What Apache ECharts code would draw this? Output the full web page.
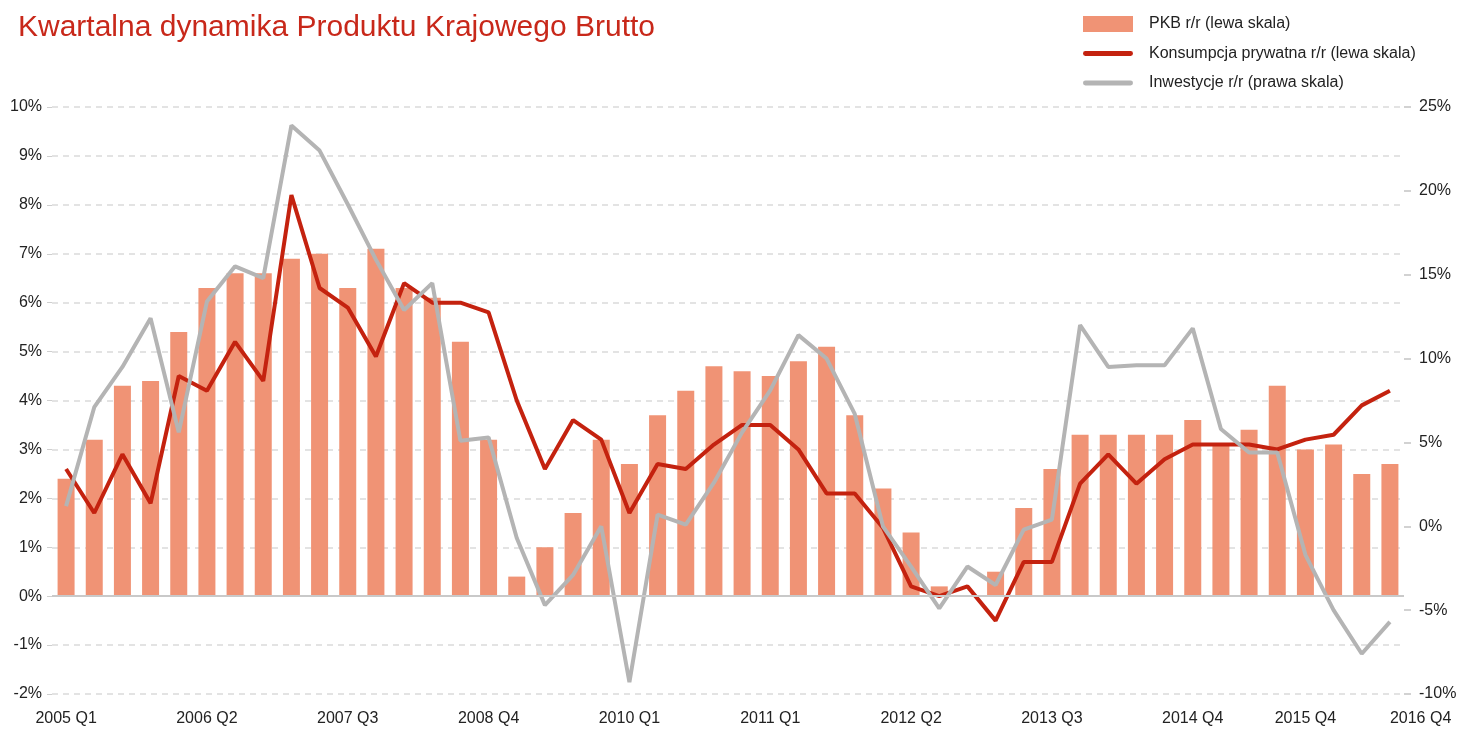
<!DOCTYPE html>
<html lang="pl">
<head>
<meta charset="UTF-8">
<title>Kwartalna dynamika PKB</title>
<script src="https://cdn.jsdelivr.net/npm/echarts@6/dist/echarts.min.js"></script>
<style>
html, body { margin: 0; padding: 0; background: #fff; }
#chart { width: 1475px; height: 729px; }
</style>
</head>
<body>
<div id="chart"></div>
<script>
var quarters = [
  '2005 Q1','2005 Q2','2005 Q3','2005 Q4','2006 Q1','2006 Q2','2006 Q3','2006 Q4',
  '2007 Q1','2007 Q2','2007 Q3','2007 Q4','2008 Q1','2008 Q2','2008 Q3','2008 Q4',
  '2009 Q1','2009 Q2','2009 Q3','2009 Q4','2010 Q1','2010 Q2','2010 Q3','2010 Q4',
  '2011 Q1','2011 Q2','2011 Q3','2011 Q4','2012 Q1','2012 Q2','2012 Q3','2012 Q4',
  '2013 Q1','2013 Q2','2013 Q3','2013 Q4','2014 Q1','2014 Q2','2014 Q3','2014 Q4',
  '2015 Q1','2015 Q2','2015 Q3','2015 Q4','2016 Q1','2016 Q2','2016 Q3','2016 Q4'
];
// PKB r/r (lewa skala)
var pkb = [2.4,3.2,4.3,4.4,5.4,6.3,6.6,6.6,6.9,7.0,6.3,7.1,6.3,6.1,5.2,3.2,
           0.4,1.0,1.7,3.2,2.7,3.7,4.2,4.7,4.6,4.5,4.8,5.1,3.7,2.2,1.3,0.2,
           0.0,0.5,1.8,2.6,3.3,3.3,3.3,3.3,3.6,3.1,3.4,4.3,3.0,3.1,2.5,2.7];
// Konsumpcja prywatna r/r (lewa skala)
var konsumpcja = [2.6,1.7,2.9,1.9,4.5,4.2,5.2,4.4,8.2,6.3,5.9,4.9,6.4,6.0,6.0,5.8,
                  4.0,2.6,3.6,3.2,1.7,2.7,2.6,3.1,3.5,3.5,3.0,2.1,2.1,1.4,0.2,0.0,
                  0.2,-0.5,0.7,0.7,2.3,2.9,2.3,2.8,3.1,3.1,3.1,3.0,3.2,3.3,3.9,4.2];
// Inwestycje r/r (prawa skala)
var inwestycje = [1.2,7.1,9.5,12.4,5.6,13.4,15.5,14.8,23.9,22.4,19.2,15.9,12.9,14.5,5.1,5.3,
                  -0.7,-4.7,-2.9,0.0,-9.3,0.7,0.1,2.6,5.6,8.1,11.4,10.0,6.7,0.0,-2.4,-4.9,
                  -2.4,-3.5,-0.2,0.4,12.0,9.5,9.6,9.6,11.8,5.8,4.4,4.4,-1.7,-5.0,-7.6,-5.7];
// etykiety osi X (indeks -> tekst)
var tickIdx = [0,5,10,15,20,25,30,35,40,44,47];
var tickTxt = ['2005 Q1','2006 Q2','2007 Q3','2008 Q4','2010 Q1','2011 Q1','2012 Q2','2013 Q3','2014 Q4','2015 Q4','2016 Q4'];

var FONT = "'Liberation Sans', Arial, sans-serif";
var names = ['PKB r/r (lewa skala)', 'Konsumpcja prywatna r/r (lewa skala)', 'Inwestycje r/r (prawa skala)'];
// gruba linia z zaokraglonymi koncami do legendy
var lineIcon = 'path://M2.5,0 L49.5,0 A2.5,2.5 0 0 1 49.5,5 L2.5,5 A2.5,2.5 0 0 1 2.5,0 Z';

var chart = echarts.init(document.getElementById('chart'));
chart.setOption({
  animation: false,
  textStyle: { fontFamily: FONT },
  title: {
    text: 'Kwartalna dynamika Produktu Krajowego Brutto',
    left: 13, top: 8,
    textStyle: { color: '#c8281a', fontSize: 30, fontWeight: 'normal', fontFamily: FONT }
  },
  legend: {
    orient: 'vertical',
    left: 1078, top: 11,
    itemWidth: 50, itemHeight: 16, itemGap: 13.5,
    symbolKeepAspect: true,
    textStyle: { fontSize: 16, color: '#222', padding: [0, 0, 0, 11], fontFamily: FONT },
    data: [
      { name: names[0], icon: 'rect' },
      { name: names[1], icon: lineIcon },
      { name: names[2], icon: lineIcon }
    ]
  },
  grid: { left: 52, right: 71, top: 107, bottom: 35 },
  xAxis: {
    type: 'category',
    data: quarters,
    axisLine: { show: false },
    axisTick: { show: false },
    axisLabel: {
      fontSize: 16, color: '#222', margin: 17,
      interval: function (i) { return tickIdx.indexOf(i) >= 0; },
      formatter: function (v, i) { var k = tickIdx.indexOf(i); return k >= 0 ? tickTxt[k] : ''; },
      alignMaxLabel: 'left'
    }
  },
  yAxis: [{
    type: 'value', min: -2, max: 10, interval: 1,
    axisLine: { show: false },
    axisTick: { show: true, length: 5, lineStyle: { color: '#cfcfcf' } },
    axisLabel: { fontSize: 16, color: '#222', margin: 10, formatter: '{value}%' },
    splitLine: { lineStyle: { color: '#dadada', width: 1.5, type: [6, 5] } }
  }, {
    type: 'value', min: -10, max: 25, interval: 5,
    axisLine: { show: false },
    axisTick: { show: true, length: 7, lineStyle: { color: '#c4c4c4', width: 1.5 } },
    axisLabel: { fontSize: 16, color: '#222', margin: 15, formatter: '{value}%' },
    splitLine: { show: false }
  }],
  series: [{
    name: names[0],
    type: 'bar',
    data: pkb,
    barWidth: 17,
    itemStyle: { color: '#f09375' },
    markLine: {
      silent: true, symbol: 'none', label: { show: false },
      lineStyle: { color: '#c9c9c9', width: 2, type: 'solid' },
      data: [{ yAxis: 0 }]
    }
  }, {
    name: names[1],
    type: 'line',
    data: konsumpcja,
    symbol: 'none',
    lineStyle: { color: '#c4220f', width: 4 },
    itemStyle: { color: '#c4220f' }
  }, {
    name: names[2],
    type: 'line',
    yAxisIndex: 1,
    data: inwestycje,
    symbol: 'none',
    lineStyle: { color: '#b4b4b4', width: 4 },
    itemStyle: { color: '#b4b4b4' }
  }]
});
</script>
</body>
</html>
